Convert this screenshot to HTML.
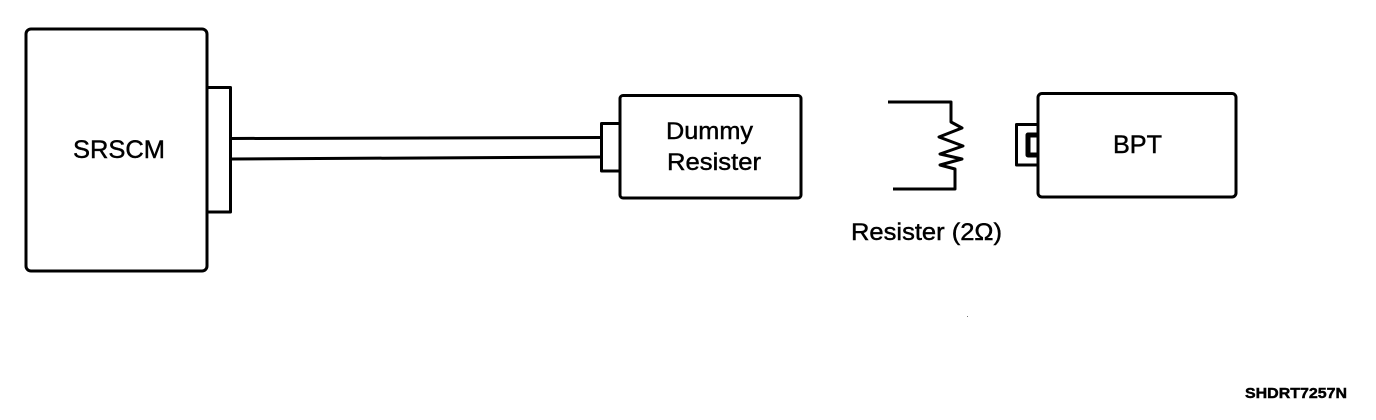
<!DOCTYPE html>
<html><head><meta charset="utf-8"><style>
html,body{margin:0;padding:0;background:#fff}
svg{display:block}
text{font-family:"Liberation Sans",Arial,sans-serif;fill:#000;stroke:#000;stroke-width:0.45px}
</style></head><body>
<svg width="1376" height="420" viewBox="0 0 1376 420" xmlns="http://www.w3.org/2000/svg">
<rect width="1376" height="420" fill="#fff"/>
<g fill="none" stroke="#000" stroke-width="3" stroke-linejoin="round">
<rect x="26" y="29" width="181" height="242" rx="5"/>
<path d="M208 87.500H230.500V212H208"/>
<path d="M231 138.500L601 137.500M231 159L601 157"/>
<rect x="620" y="95.500" width="181" height="102.500" rx="3"/>
<path d="M620 123.500H601.500V171H620"/>
<path d="M888 102H951V122L962 128L939 137L963 146L940 154L962 159L940 165L955 169V189H893"/>
<rect x="1038" y="93.500" width="198" height="103.500" rx="4"/>
<path d="M1038 124.500H1016.500V165H1038"/>
<path d="M1037 135H1028V155H1037" stroke-width="5"/>
</g>
<rect x="967" y="316" width="1" height="1" fill="#777"/>
<text x="73" y="158" font-size="25" textLength="92" lengthAdjust="spacingAndGlyphs">SRSCM</text>
<text x="666" y="139" font-size="24" textLength="87" lengthAdjust="spacingAndGlyphs">Dummy</text>
<text x="667" y="170" font-size="24" textLength="94" lengthAdjust="spacingAndGlyphs">Resister</text>
<text x="851" y="240" font-size="24" textLength="151" lengthAdjust="spacingAndGlyphs">Resister (2Ω)</text>
<text x="1113" y="153" font-size="25" textLength="49" lengthAdjust="spacingAndGlyphs">BPT</text>
<text x="1245" y="398" font-size="14.500" font-weight="bold" textLength="102" lengthAdjust="spacingAndGlyphs">SHDRT7257N</text>
</svg>
</body></html>
